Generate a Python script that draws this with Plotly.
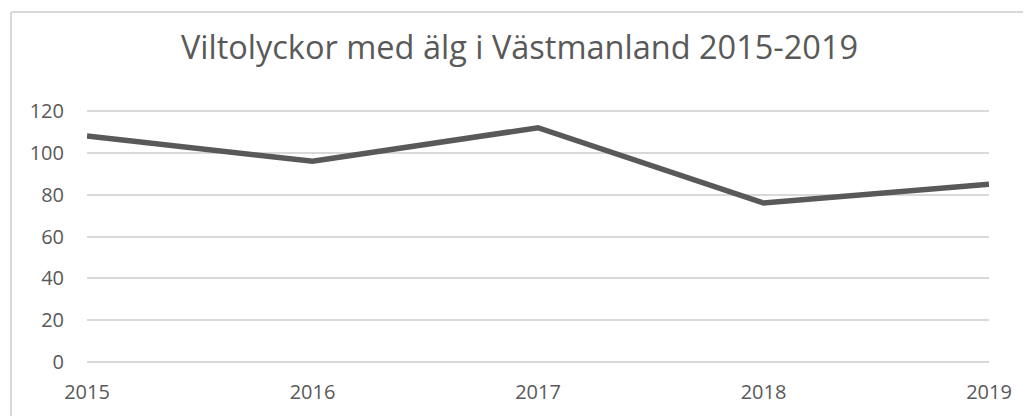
import plotly.graph_objects as go

years = [2015, 2016, 2017, 2018, 2019]
accidents = [108, 96, 112, 76, 85]
y_ticks = [0, 20, 40, 60, 80, 100, 120]
title_text = "Viltolyckor med älg i Västmanland 2015-2019"

# the page body has an 8px margin; figure coords = page coords - 8
OFF = 8
PAD = 2  # px of padding above/below so the 0 and 120 gridlines are not clipped
W, H = 1031 - OFF, 416 - OFF
L, T = 87 - OFF, 111 - OFF - PAD
R = W - (989 - OFF)
B = H - (362 - OFF + PAD)
pw, ph = W - L - R, H - T - B
unit = (362 - 111) / 120.0
ypad = PAD / unit

fig = go.Figure()
fig.add_trace(go.Scatter(
    x=years, y=accidents, mode="lines",
    line=dict(color="#595959", width=5.5),
    hoverinfo="x+y", showlegend=False,
))

def px_x(p):
    return (p - OFF - L) / pw

def px_y(p):
    return (H - B - (p - OFF)) / ph

# chart-area border (left and top edges visible)
fig.add_shape(type="line", xref="paper", yref="paper",
              x0=px_x(11), x1=px_x(11), y0=px_y(12), y1=px_y(430),
              line=dict(color="#d9d9d9", width=2))
fig.add_shape(type="line", xref="paper", yref="paper",
              x0=px_x(11), x1=px_x(1050), y0=px_y(12), y1=px_y(12),
              line=dict(color="#d9d9d9", width=2))

font_family = "Open Sans, Noto Sans, sans-serif"
fig.update_layout(
    width=W, height=H,
    margin=dict(l=L, r=R, t=T, b=B, pad=0),
    paper_bgcolor="white", plot_bgcolor="white",
    title=dict(text=title_text, x=0.5, xanchor="center",
               y=1 - (48 - OFF) / H, yanchor="middle", yref="container",
               font=dict(family=font_family, size=32.5, color="#595959")),
    xaxis=dict(range=[2015, 2019], tickmode="array", tickvals=years,
               ticktext=[str(y) for y in years], showgrid=False,
               zeroline=False, showline=False, ticks="",
               ticklabelstandoff=14,
               tickfont=dict(family=font_family, size=20, color="#595959")),
    yaxis=dict(range=[-ypad, 120 + ypad], tickmode="array", tickvals=y_ticks,
               showgrid=True, gridcolor="#d9d9d9", gridwidth=1.8,
               zeroline=False, showline=False, ticks="",
               ticklabelstandoff=22,
               tickfont=dict(family=font_family, size=20, color="#595959")),
)

fig.write_html("out.html")
